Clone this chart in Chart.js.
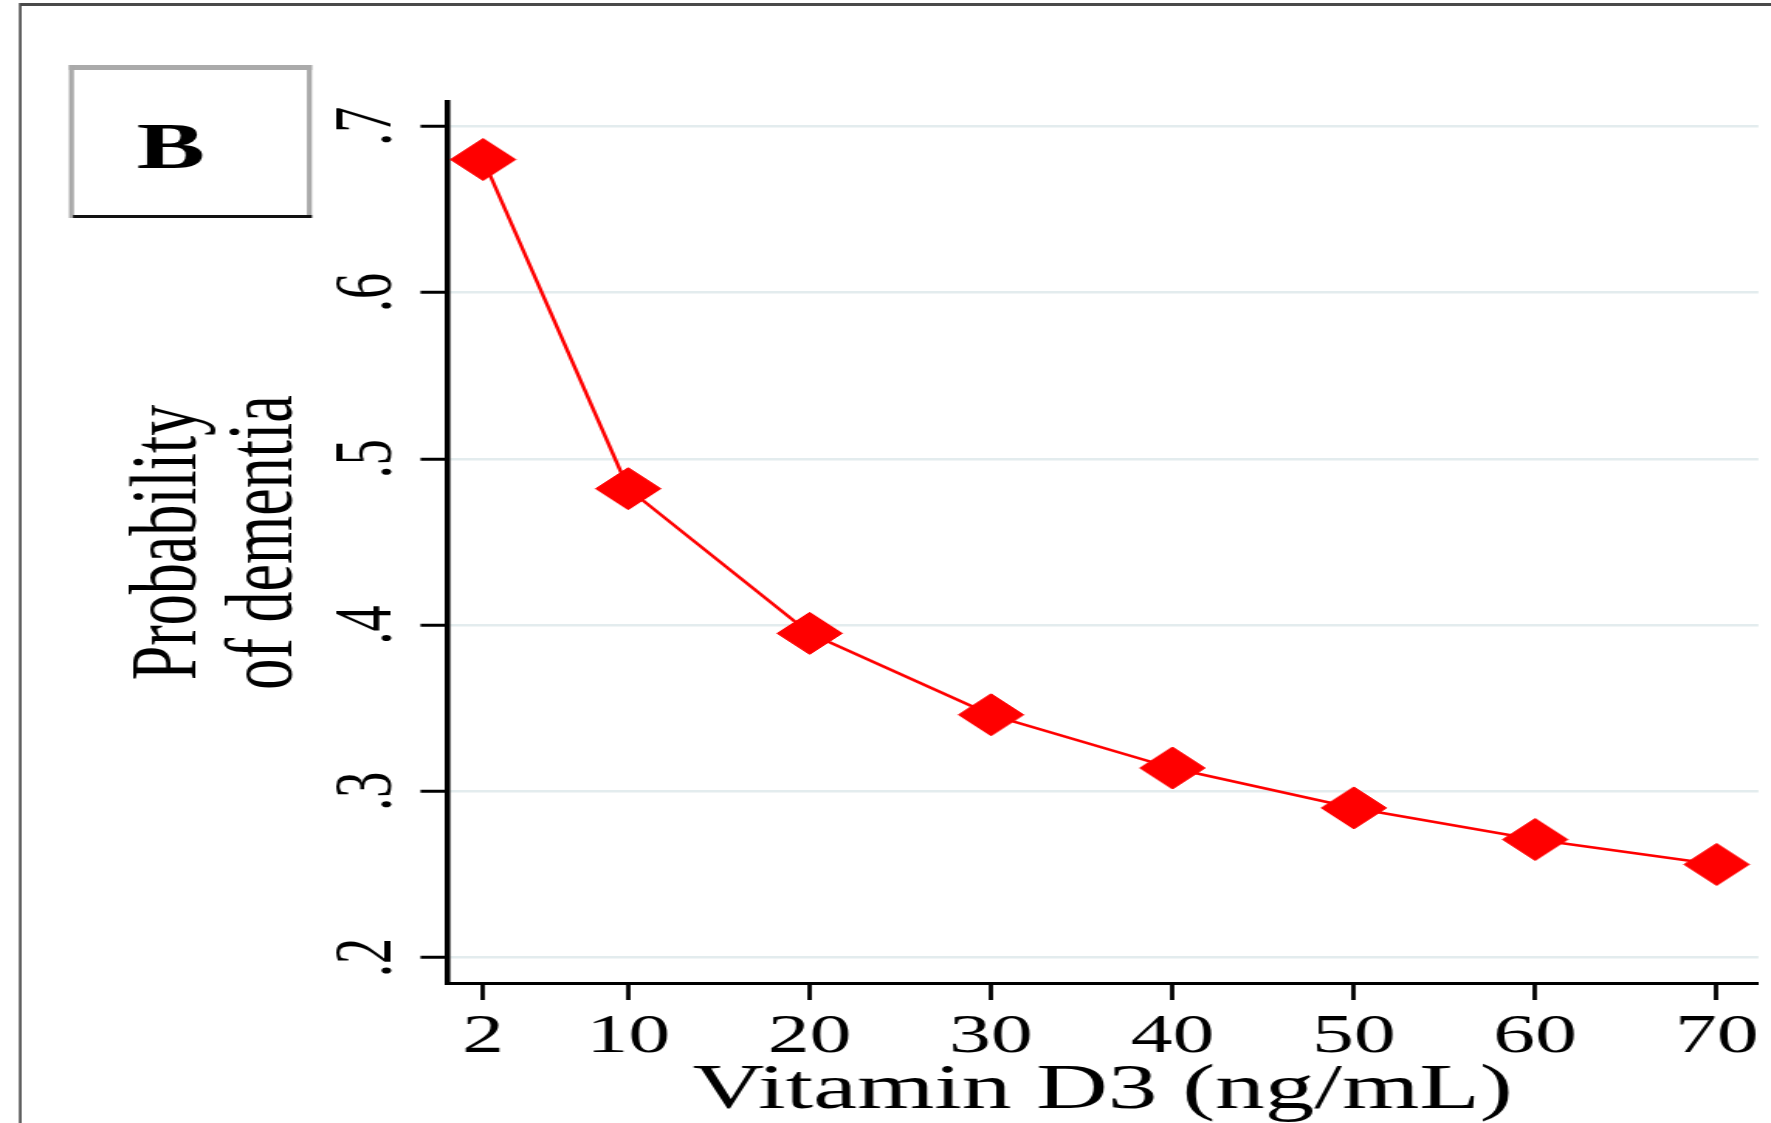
<!DOCTYPE html>
<html>
<head>
<meta charset="utf-8">
<script src="https://cdn.jsdelivr.net/npm/chart.js@4/dist/chart.umd.min.js"></script>
<style>
  html, body { margin: 0; padding: 0; background: #ffffff; overflow: hidden; }
  #wrap { position: absolute; left: 0; top: 0; width: 1771px; height: 1123px; overflow: hidden; }
  #plot { position: absolute; left: 0; top: 0; transform-origin: 0 0; }
</style>
</head>
<body>
<div id="wrap"><canvas id="plot"></canvas></div>
<script>
// Vitamin D3 level (ng/mL) and predicted probability of dementia
const vitaminD3 = [2, 10, 20, 30, 40, 50, 60, 70];
const probability = [0.680, 0.482, 0.395, 0.346, 0.314, 0.290, 0.271, 0.256];
const xTickValues = [2, 10, 20, 30, 40, 50, 60, 70];
const yTickValues = [0.2, 0.3, 0.4, 0.5, 0.6, 0.7];
const xTitle = 'Vitamin D3 (ng/mL)';
const yTitle = ['Probability', 'of dementia'];
const panelLabel = 'B';

// The figure is drawn narrow and widened horizontally, like the printed panel.
const STRETCH = 1.55;
const PAGE_W = 1771, PAGE_H = 1123;
const W = Math.round(PAGE_W / STRETCH);
const H = PAGE_H;

const AREA_LEFT = 447 / STRETCH;
const AREA_RIGHT = 1759 / STRETCH;
const AREA_TOP = 102;
const AREA_BOTTOM = 983;

const canvas = document.getElementById('plot');
canvas.width = W;
canvas.height = H;
canvas.style.transform = 'scaleX(' + (PAGE_W / W) + ')';

const SERIF = "'Liberation Serif', 'Times New Roman', serif";

// White page, outer frame and the boxed panel letter
const panelDecor = {
  id: 'panelDecor',
  beforeDraw(chart) {
    const ctx = chart.ctx;
    ctx.save();
    ctx.fillStyle = '#ffffff';
    ctx.fillRect(0, 0, chart.width, chart.height);
    ctx.restore();
  },
  afterDraw(chart) {
    const ctx = chart.ctx;
    ctx.save();
    // outer frame (top and left edges are visible)
    ctx.fillStyle = '#4a4a4a';
    ctx.fillRect(20 / STRETCH, 3, chart.width, 3);
    ctx.fillRect(19 / STRETCH, 3, 2.6 / STRETCH, chart.height);
    // panel letter box
    const bx0 = 69 / STRETCH, bx1 = 312 / STRETCH, by0 = 65, by1 = 218;
    ctx.fillStyle = '#ffffff';
    ctx.fillRect(bx0, by0, bx1 - bx0, by1 - by0);
    ctx.fillStyle = '#aaaaaa';
    ctx.fillRect(bx0, by0, bx1 - bx0, 5);
    ctx.fillRect(bx0, by0, 5 / STRETCH, by1 - by0);
    ctx.fillRect(bx1 - 5 / STRETCH, by0, 5 / STRETCH, by1 - by0);
    ctx.fillStyle = '#111111';
    ctx.fillRect(bx0 + 4 / STRETCH, by1 - 3, bx1 - bx0 - 4 / STRETCH, 3);
    ctx.fillStyle = '#000000';
    ctx.font = 'bold 66px ' + SERIF;
    ctx.textAlign = 'center';
    ctx.textBaseline = 'alphabetic';
    ctx.fillText(panelLabel, 171 / STRETCH, 168);
    ctx.restore();
  }
};

new Chart(canvas, {
  type: 'line',
  data: {
    datasets: [{
      data: vitaminD3.map((v, i) => ({ x: v, y: probability[i] })),
      borderColor: '#ff0000',
      borderWidth: 2.5,
      backgroundColor: '#ff0000',
      pointStyle: 'rectRot',
      pointRadius: 21,
      pointBorderWidth: 1,
      pointBackgroundColor: '#ff0000',
      pointBorderColor: '#ff0000',
      tension: 0,
      fill: false
    }]
  },
  options: {
    responsive: false,
    animation: false,
    devicePixelRatio: 1,
    layout: {
      autoPadding: false,
      padding: { left: 0, right: W - AREA_RIGHT, top: AREA_TOP, bottom: 0 }
    },
    plugins: {
      legend: { display: false },
      tooltip: { enabled: false }
    },
    scales: {
      x: {
        type: 'linear',
        min: 0,
        max: 72.3,
        afterFit(scale) {
          scale.height = H - AREA_BOTTOM;
          scale.paddingLeft = 0;
          scale.paddingRight = 0;
        },
        afterBuildTicks(scale) { scale.ticks = xTickValues.map(v => ({ value: v })); },
        border: { display: true, color: '#000000', width: 3 },
        grid: {
          drawOnChartArea: false,
          drawTicks: true,
          tickLength: 17,
          tickColor: '#000000',
          tickWidth: 2.8
        },
        ticks: {
          autoSkip: false,
          maxRotation: 0,
          minRotation: 0,
          padding: 5,
          color: '#000000',
          font: { family: SERIF, size: 54 },
          callback: v => String(v)
        },
        title: {
          display: true,
          text: xTitle,
          color: '#000000',
          font: { family: SERIF, size: 64, lineHeight: 1 },
          padding: { top: 0, bottom: 0 }
        }
      },
      y: {
        type: 'linear',
        min: 0.1847,
        max: 0.7146,
        afterFit(scale) {
          scale.width = AREA_LEFT;
          scale.paddingTop = 0;
          scale.paddingBottom = 0;
        },
        afterBuildTicks(scale) { scale.ticks = yTickValues.map(v => ({ value: v })); },
        border: { display: true, color: '#000000', width: 3.6 },
        grid: {
          drawOnChartArea: true,
          color: '#e3ecee',
          lineWidth: 2.5,
          drawTicks: true,
          tickLength: 17,
          tickColor: '#000000',
          tickWidth: 3
        },
        ticks: {
          autoSkip: false,
          minRotation: 90,
          maxRotation: 90,
          crossAlign: 'center',
          padding: 14,
          color: '#000000',
          font: { family: SERIF, size: 52 },
          callback: v => v.toFixed(1).replace(/^0/, '')
        },
        title: {
          display: true,
          text: yTitle,
          color: '#000000',
          font: { family: SERIF, size: 62, lineHeight: 1 },
          padding: { top: 79, bottom: 0 }
        }
      }
    }
  },
  plugins: [panelDecor]
});
</script>
</body>
</html>
